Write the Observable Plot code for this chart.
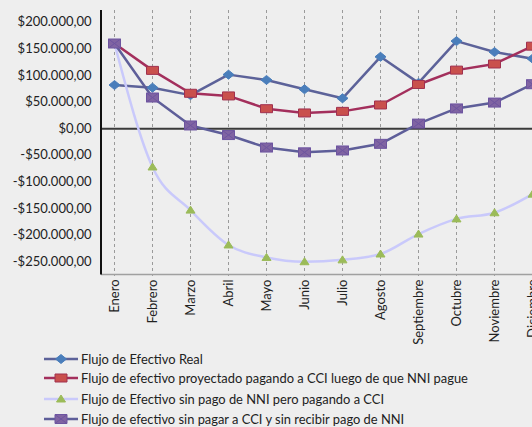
<!DOCTYPE html>
<html><head><meta charset="utf-8">
<script src="https://cdn.jsdelivr.net/npm/d3@7"></script>
<script src="https://cdn.jsdelivr.net/npm/@observablehq/plot@0.6"></script>
<style>
html,body{margin:0;padding:0;background:#eeeeee;overflow:hidden;width:532px;height:427px}
#chart{position:absolute;left:0;top:0}
.lg{position:absolute;left:44px;height:16px;display:flex;align-items:center;font-family:Lato,sans-serif;font-size:12.9px;color:#222;white-space:nowrap}
.lg svg{margin-right:3px}
</style></head>
<body><div id="chart"></div><div id="legend"></div>
<script>
const months = ["Enero","Febrero","Marzo","Abril","Mayo","Junio","Julio","Agosto","Septiembre","Octubre","Noviembre","Diciembre"];
const real = [82000,77000,63000,101500,91500,74000,57000,135000,86000,164500,144000,131500];
const proyectado = [160000,109500,66500,61500,37500,29500,32500,44500,83000,110000,121500,155000];
const sinNNI = [160000,-72000,-153000,-218500,-242000,-250000,-246500,-235500,-198000,-169500,-158000,-123000];
const sinCCI = [160000,58500,6000,-12000,-35500,-44500,-41000,-28500,9500,38000,49000,83500];
const yTicks = [-250000,-200000,-150000,-100000,-50000,0,50000,100000,150000,200000];
const seriesNames = [
  "Flujo de Efectivo Real",
  "Flujo de efectivo proyectado pagando a CCI luego de que NNI pague",
  "Flujo de Efectivo sin pago de NNI pero pagando a CCI",
  "Flujo de efectivo sin pagar a CCI y sin recibir pago de NNI"
];

const fmt = v => (v < 0 ? "-" : "") + "$" + d3.format(",.2f")(Math.abs(v)).replace(/,/g,"X").replace(/\./g,",").replace(/X/g,".");
const toRows = arr => months.map((m,i)=>({month:m, v:arr[i]}));

const diamond = {draw(c){c.moveTo(0,-4.5);c.lineTo(5.5,0);c.lineTo(0,4.5);c.lineTo(-5.5,0);c.closePath();}};
const rectSym = {draw(c){c.moveTo(-6,-4);c.lineTo(6,-4);c.lineTo(6,4);c.lineTo(-6,4);c.closePath();}};
const tri = {draw(c){c.moveTo(0,-4);c.lineTo(4.5,3);c.lineTo(-4.5,3);c.closePath();}};
const rectX = {draw(c){c.moveTo(-6,-4.5);c.lineTo(6,-4.5);c.lineTo(6,4.5);c.lineTo(-6,4.5);c.closePath();c.moveTo(-6,-4.5);c.lineTo(6,4.5);c.moveTo(6,-4.5);c.lineTo(-6,4.5);}};

const styles = [
  {data: real, line:"#5c6299", curve:"linear", sym: diamond, fill:"#4a7ebb", stroke:"#4a7ebb"},
  {data: proyectado, line:"#a32f5c", curve:"linear", sym: rectSym, fill:"#c9504d", stroke:"#a0304f"},
  {data: sinNNI, line:"#c9c9fb", curve:"monotone-x", sym: tri, fill:"#9bbb59", stroke:"#9bbb59"},
  {data: sinCCI, line:"#5e5e99", curve:"linear", sym: rectX, fill:"#8064a2", stroke:"#6d54a0"}
];

const marks = [
  Plot.ruleX(months, {stroke:"#9a9a9a", strokeDasharray:"3,3", strokeWidth:1}),
  Plot.ruleY([-274000], {stroke:"#a0a0a0", strokeWidth:1.5}),
  Plot.ruleY([0], {stroke:"#3a3a3a", strokeWidth:2}),
  Plot.axisY({ticks:yTicks, tickFormat:fmt, tickSize:0, tickPadding:10, fontSize:13, label:null}),
  Plot.axisX({tickRotate:-90, tickSize:2, tickPadding:3, fontSize:13, label:null, stroke:"#a0a0a0"})
];
for (const s of styles) {
  marks.push(Plot.line(toRows(s.data), {x:"month", y:"v", stroke:s.line, strokeWidth:2.5, curve:s.curve}));
}
for (const s of styles) {
  marks.push(Plot.dot(toRows(s.data), {x:"month", y:"v", symbol:()=>s.sym, r:4, fill:s.fill, stroke:s.stroke, strokeWidth:1}));
}

const chart = Plot.plot({
  width: 532, height: 340,
  marginLeft: 101, marginRight: 0, marginTop: 10, marginBottom: 66,
  style: {background:"transparent", fontFamily:"Lato, sans-serif", fontSize:"13px", color:"#222", overflow:"visible"},
  x: {type:"point", domain: months, range:[113, 532], padding:0, label:null},
  y: {domain:[-274000, 222000], label:null},
  symbol: {type:"identity"},
  marks
});
document.getElementById("chart").appendChild(chart);
// left axis line
const svgNS = "http://www.w3.org/2000/svg";
const ln = document.createElementNS(svgNS, "line");
ln.setAttribute("x1", 101); ln.setAttribute("x2", 101); ln.setAttribute("y1", 10); ln.setAttribute("y2", 274.5);
ln.setAttribute("stroke", "#111"); ln.setAttribute("stroke-width", 2);
chart.appendChild(ln);

// legend
const legend = document.getElementById("legend");
const rowsY = [351, 370, 391, 411];
styles.forEach((s, i) => {
  const row = document.createElement("div");
  row.className = "lg";
  row.style.top = rowsY[i] + "px";
  const sw = d3.create("svg").attr("width", 34).attr("height", 14);
  sw.append("line").attr("x1",0).attr("x2",34).attr("y1",7).attr("y2",7).attr("stroke",s.line).attr("stroke-width",2.5);
  const p = d3.path(); s.sym.draw(p);
  sw.append("path").attr("d", p.toString()).attr("transform","translate(17,7)").attr("fill",s.fill).attr("stroke",s.stroke);
  row.appendChild(sw.node());
  const t = document.createElement("span"); t.textContent = seriesNames[i];
  row.appendChild(t);
  legend.appendChild(row);
});
</script>
</body></html>
